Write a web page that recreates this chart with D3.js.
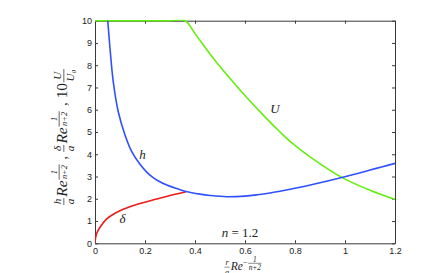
<!DOCTYPE html>
<html>
<head>
<meta charset="utf-8">
<script src="https://cdn.jsdelivr.net/npm/d3@7"></script>
<style>
  body { margin: 0; background: #fff; }
  svg { display: block; }
</style>
</head>
<body>
<svg id="chart" width="436" height="273"></svg>
<script>
// curve data (n = 1.2)
var deltaX = [0, 0.002, 0.007, 0.02, 0.047, 0.08, 0.113, 0.18, 0.247, 0.3, 0.364];
var deltaY = [0, 0.22, 0.45, 0.72, 1.1, 1.35, 1.53, 1.79, 1.99, 2.15, 2.32];

var hX = [0.051, 0.06, 0.073, 0.093, 0.12, 0.147, 0.18, 0.207, 0.23, 0.25, 0.287, 0.33, 0.364, 0.42, 0.46, 0.527, 0.6, 0.65, 0.7, 0.75, 0.8, 0.87, 0.93, 0.987, 1.05, 1.1, 1.15, 1.2];
var hY = [10, 8.76, 7.26, 5.91, 4.87, 4.12, 3.55, 3.2, 2.97, 2.82, 2.62, 2.45, 2.33, 2.21, 2.15, 2.09, 2.12, 2.18, 2.26, 2.36, 2.47, 2.64, 2.8, 2.96, 3.14, 3.29, 3.44, 3.59];

var uX = [0, 0.1, 0.2, 0.3, 0.36, 0.4, 0.473, 0.58, 0.673, 0.74, 0.78, 0.873, 0.987, 1.1, 1.2];
var uY = [10, 10, 10, 10, 10, 9.42, 8.31, 6.89, 5.76, 5.0, 4.58, 3.78, 2.96, 2.38, 1.97];

var xTicks = [0, 0.2, 0.4, 0.6, 0.8, 1, 1.2];
var yTicks = [0, 1, 2, 3, 4, 5, 6, 7, 8, 9, 10];

var width = 436, height = 273;
var margin = {top: 20.7, right: 41, bottom: 29.7, left: 95};

var svg = d3.select("#chart");

var sc_x = d3.scaleLinear().domain([0, 1.2]).range([margin.left, width - margin.right]);
var sc_y = d3.scaleLinear().domain([0, 10]).range([height - margin.bottom, margin.top]);

var axisColor = "#3a3a3a";
var tickFont = "'Liberation Sans', Arial, sans-serif";
var mathFont = "'Liberation Serif', 'DejaVu Serif', serif";

svg.append("clipPath").attr("id", "plotclip")
   .append("rect")
   .attr("x", margin.left).attr("y", margin.top - 1)
   .attr("width", sc_x(1.2) - sc_x(0))
   .attr("height", sc_y(0) - sc_y(10) + 1);

// axes, MATLAB style box with inward ticks
function styleAxis(g) {
    g.select(".domain").attr("stroke", axisColor);
    g.selectAll(".tick line").attr("stroke", axisColor);
    g.selectAll(".tick text").attr("fill", "#222")
     .style("font-family", tickFont).style("font-size", "9px");
}

svg.append("g")
   .attr("transform", "translate(0," + sc_y(0) + ")")
   .call(d3.axisBottom(sc_x).tickValues(xTicks).tickFormat(d3.format("")).tickSizeInner(-3).tickSizeOuter(0).tickPadding(4))
   .call(styleAxis);

svg.append("g")
   .attr("transform", "translate(" + sc_x(0) + ",0)")
   .call(d3.axisLeft(sc_y).tickValues(yTicks).tickSizeInner(-3).tickSizeOuter(0).tickPadding(3))
   .call(styleAxis);

svg.append("g")
   .attr("transform", "translate(0," + sc_y(10) + ")")
   .call(d3.axisTop(sc_x).tickValues(xTicks).tickFormat("").tickSizeInner(-3).tickSizeOuter(0))
   .call(styleAxis);

svg.append("g")
   .attr("transform", "translate(" + sc_x(1.2) + ",0)")
   .call(d3.axisRight(sc_y).tickValues(yTicks).tickFormat("").tickSizeInner(-3).tickSizeOuter(0))
   .call(styleAxis);

// curves
var line = d3.line()
    .x(function(d) { return sc_x(d[0]); })
    .y(function(d) { return sc_y(d[1]); })
    .curve(d3.curveCatmullRom.alpha(0.5));

function drawCurve(xs, ys, color) {
    svg.append("path")
       .datum(d3.zip(xs, ys))
       .attr("clip-path", "url(#plotclip)")
       .attr("fill", "none")
       .attr("stroke", color)
       .attr("stroke-width", 1.6)
       .attr("d", line);
}

drawCurve(uX, uY, "#66ee11");
drawCurve(deltaX, deltaY, "#ee1b1b");
drawCurve(hX, hY, "#3050ff");

// math-ish text: plain runs and stacked fractions
function mathText(g, parts) {
    var cursor = 0;
    parts.forEach(function(p) {
        var sz = p.size || 11, dy = p.dy || 0;
        if (p.frac) {
            var num = g.append("text").attr("font-size", sz).style("font-family", mathFont)
                .attr("font-style", "italic").attr("text-anchor", "middle").text(p.frac[0]);
            var den = g.append("text").attr("font-size", sz).style("font-family", mathFont)
                .attr("font-style", "italic").attr("text-anchor", "middle").text(p.frac[1]);
            var w = Math.max(num.node().getComputedTextLength(), den.node().getComputedTextLength()) + 1;
            var cx = cursor + w / 2 + 0.5;
            var bar = dy - sz * 0.32;
            num.attr("x", cx).attr("y", bar - sz * 0.24);
            den.attr("x", cx).attr("y", bar + sz * 0.9);
            g.append("line").attr("x1", cursor + 0.5).attr("x2", cursor + w + 0.5)
             .attr("y1", bar).attr("y2", bar).attr("stroke", "#222").attr("stroke-width", 0.5);
            cursor += w + 1.5;
        } else {
            var t = g.append("text").attr("x", cursor).attr("y", dy)
                .attr("font-size", sz).style("font-family", mathFont)
                .attr("font-style", p.italic ? "italic" : "normal")
                .style("white-space", "pre")
                .text(p.t);
            cursor += t.node().getComputedTextLength();
        }
    });
    g.selectAll("text").attr("fill", "#222");
    return cursor;
}

// curve labels
function curveLabel(x, y, t) {
    svg.append("text").attr("x", sc_x(x)).attr("y", sc_y(y))
       .style("font-family", mathFont).attr("font-style", "italic").attr("font-size", 13)
       .attr("text-anchor", "middle").attr("fill", "#222").text(t);
}
curveLabel(0.19, 3.78, "h");
curveLabel(0.11, 0.92, "δ");
curveLabel(0.72, 5.85, "U");

var nLab = svg.append("g");
var nw = mathText(nLab, [
    {t: "n", italic: true, size: 13},
    {t: "\u00a0=\u00a01.2", size: 13}
]);
nLab.attr("transform", "translate(" + (sc_x(0.58) - nw / 2) + ",237)");

// fit a label group onto a target box using its real on-screen size
function fitLabel(g, rotate, cx, cy, len) {
    var rot = rotate ? " rotate(-90)" : "";
    g.attr("transform", "translate(0,0)" + rot);
    var r = g.node().getBoundingClientRect();
    var s = len / (rotate ? r.height : r.width);
    g.attr("transform", "translate(0,0)" + rot + " scale(" + s + ")");
    r = g.node().getBoundingClientRect();
    var dx = cx - (r.left + r.width / 2), dy = cy - (r.top + r.height / 2);
    g.attr("transform", "translate(" + dx + "," + dy + ")" + rot + " scale(" + s + ")");
}

// x label
var xLab = svg.append("g");
mathText(xLab, [
    {frac: ["r", "a"], size: 8},
    {t: "Re", italic: true, size: 11},
    {t: "−", size: 8, dy: -5},
    {frac: ["1", "n+2"], size: 7, dy: -4}
]);
fitLabel(xLab, false, 243, 265.6, 37);

// y label, rotated
var yLab = svg.append("g");
mathText(yLab, [
    {frac: ["h", "a"], size: 8},
    {t: "Re", italic: true, size: 11},
    {frac: ["1", "n+2"], size: 6, dy: -4},
    {t: " , ", size: 10},
    {frac: ["δ", "a"], size: 8},
    {t: "Re", italic: true, size: 11},
    {frac: ["1", "n+2"], size: 6, dy: -4},
    {t: " , 10", size: 11},
    {frac: ["U", "U₀"], size: 8}
]);
fitLabel(yLab, true, 63, 137, 136);
</script>
</body>
</html>
